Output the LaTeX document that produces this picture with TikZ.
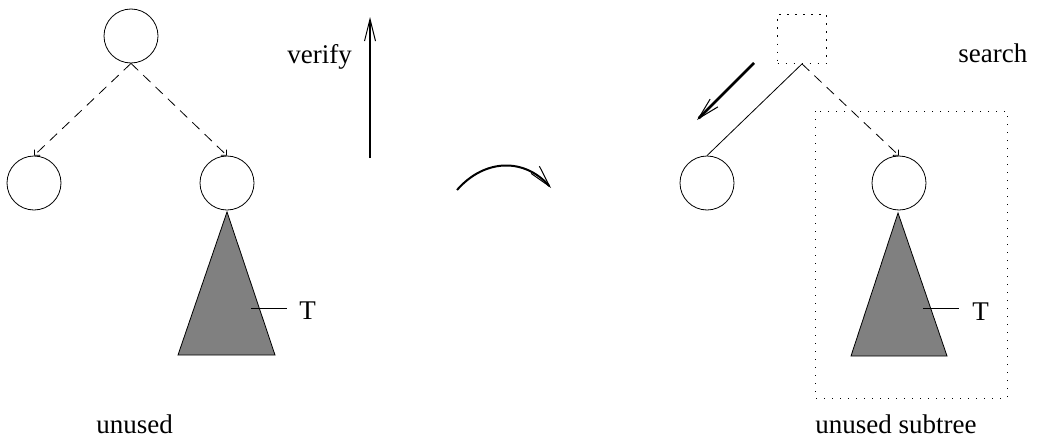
\documentclass[tikz,border=0pt]{standalone}
\usepackage{fontspec}
\setmainfont{Liberation Serif}
\usetikzlibrary{arrows.meta}
\begin{document}
\begin{tikzpicture}[x=0.5pt,y=-0.5pt, every node/.style={font=\fontsize{13.5}{16}\selectfont,inner sep=0pt}, vtx/.style={draw,circle,minimum size=27pt,inner sep=0pt}, edge/.style={dash pattern=on 5pt off 3.5pt,-{Straight Barb[length=2pt,width=4pt]}}, box/.style={draw,dash pattern=on 0.6pt off 3.4pt}, >={Straight Barb[length=11pt,width=5.5pt,line width=0.5pt]}]
\useasboundingbox (0,0) rectangle (1037,439);
% left tree
\node[vtx] (r1) at (131,36) {};\node[vtx] (a1) at (34,183) {};\node[vtx] (b1) at (227,183) {};
\draw[edge] (r1.south)--(a1.north);\draw[edge] (r1.south)--(b1.north);
\draw[fill=gray] (227,212)--(275,355)--(178,355)--cycle;
\node[anchor=base west] (t1) at (299,319) {T};\coordinate (m1) at (251,308);\draw (m1)--(287,308);
\coordinate (v0) at (370,158);\coordinate (v1) at (370,17);\draw[->,line width=1pt] (v0)--(v1);
\node[anchor=base west] (vt) at (287,63) {verify};\node[anchor=base west] (u1) at (96,433) {unused};
% middle
\coordinate (c0) at (457,190);\coordinate (c1) at (551,188);
\draw[->,line width=1pt] (c0) .. controls (485,158) and (525,158) .. (c1);
% right tree
\node[box,minimum size=24.5pt] (r2) at (802,39) {};\node[vtx] (a2) at (707,183) {};\node[vtx] (b2) at (899,183) {};
\draw (r2.south)--(a2.north);\draw[edge] (r2.south)--(b2.north);
\coordinate (s0) at (754,63);\coordinate (s1) at (697,120);\draw[->,line width=1.3pt] (s0)--(s1);
\node[anchor=base west] (st) at (958,62) {search};
\draw[box] (815,111) rectangle (1007,398);
\draw[fill=gray] (898,213)--(947,356)--(851,356)--cycle;
\node[anchor=base west] (t2) at (972,320) {T};\coordinate (m2) at (923,308);\draw (m2)--(959,308);
\node[anchor=base west] (u2) at (815,433) {unused subtree};
\end{tikzpicture}
\end{document}
